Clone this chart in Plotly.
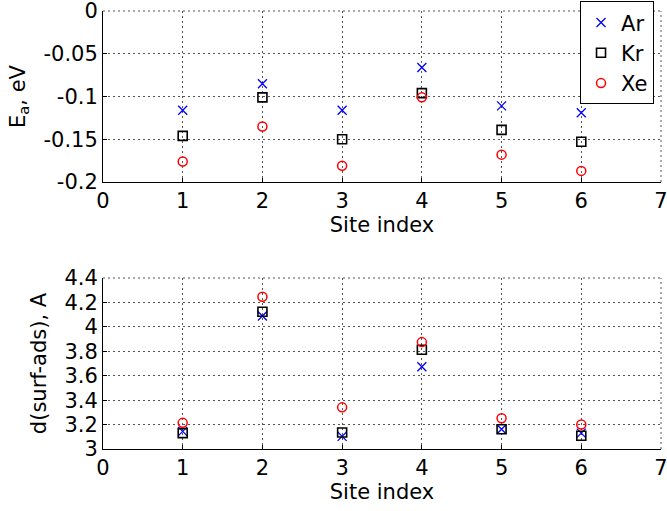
import plotly.graph_objects as go

# Adsorption sites
sites = [1, 2, 3, 4, 5, 6]

# Adsorption energy E_a (eV) per gas
ea_ar = [-0.116, -0.085, -0.116, -0.066, -0.111, -0.119]
ea_kr = [-0.146, -0.101, -0.150, -0.096, -0.139, -0.153]
ea_xe = [-0.176, -0.135, -0.181, -0.101, -0.168, -0.187]

# Surface-adsorbate distance (A) per gas
d_ar = [3.144, 4.089, 3.103, 3.674, 3.162, 3.130]
d_kr = [3.130, 4.124, 3.135, 3.812, 3.162, 3.108]
d_xe = [3.214, 4.246, 3.341, 3.875, 3.252, 3.200]

# Tick labels
x_ticks = [0, 1, 2, 3, 4, 5, 6, 7]
ea_ticks = [0, -0.05, -0.1, -0.15, -0.2]
ea_ticktext = ["0", "-0.05", "-0.1", "-0.15", "-0.2"]
d_ticks = [3, 3.2, 3.4, 3.6, 3.8, 4, 4.2, 4.4]
d_ticktext = ["3", "3.2", "3.4", "3.6", "3.8", "4", "4.2", "4.4"]

FONT = "DejaVu Sans"
FS = 21
GRID_COLOR = "#555"
GRID_DASH = "2px,3px"
styles = {
    "Ar": dict(symbol="x-thin-open", size=9, color="blue", line=dict(color="blue", width=1.3)),
    "Kr": dict(symbol="square-open", size=9, color="black", line=dict(color="black", width=1.6)),
    "Xe": dict(symbol="circle-open", size=9, color="red", line=dict(color="red", width=1.5)),
}

fig = go.Figure()
for name, ys in (("Ar", ea_ar), ("Kr", ea_kr), ("Xe", ea_xe)):
    fig.add_trace(go.Scatter(x=sites, y=ys, mode="markers", name=name,
                             marker=styles[name], xaxis="x", yaxis="y"))
for name, ys in (("Ar", d_ar), ("Kr", d_kr), ("Xe", d_xe)):
    fig.add_trace(go.Scatter(x=sites, y=ys, mode="markers", name=name,
                             marker=styles[name], xaxis="x2", yaxis="y2",
                             showlegend=False))

# Solid left/bottom axes with inward ticks; dotted grid
axis_common = dict(
    showline=True, linecolor="black", linewidth=1, mirror=False,
    ticks="inside", ticklen=4, tickcolor="black",
    showgrid=True, gridcolor=GRID_COLOR, griddash=GRID_DASH, gridwidth=1,
    zeroline=False, ticklabeloverflow="allow",
    tickfont=dict(family=FONT, size=FS, color="black"),
)
title_font = dict(family=FONT, size=FS, color="black")

# Dotted top and right edges closing each axes box
for xr, yr in (("x", "y"), ("x2", "y2")):
    edge = dict(type="line", xref=f"{xr} domain", yref=f"{yr} domain",
                line=dict(color=GRID_COLOR, width=1, dash=GRID_DASH), layer="below")
    fig.add_shape(edge, x0=0, x1=1, y0=1, y1=1)
    fig.add_shape(edge, x0=1, x1=1, y0=0, y1=1)

fig.update_layout(
    width=667, height=511,
    margin=dict(l=103, r=6, t=11, b=62, autoexpand=False),
    paper_bgcolor="white", plot_bgcolor="white",
    font=dict(family=FONT, size=FS, color="black"),
    showlegend=True,
    legend=dict(x=0.9875, y=1.022, xanchor="right", yanchor="top",
                bordercolor="black", borderwidth=1, bgcolor="white",
                font=dict(family=FONT, size=FS, color="black"),
                itemwidth=30, tracegroupgap=0),
    xaxis=dict(axis_common, domain=[0, 1], range=[0, 7], tickvals=x_ticks,
               anchor="y", title=dict(text="Site index", standoff=3, font=title_font)),
    yaxis=dict(axis_common, domain=[0.6096, 1.0], range=[-0.2, 0],
               tickvals=ea_ticks, ticktext=ea_ticktext, anchor="x",
               title=dict(text="E<sub>a</sub>, eV", standoff=12, font=title_font)),
    xaxis2=dict(axis_common, domain=[0, 1], range=[0, 7], tickvals=x_ticks,
                anchor="y2", title=dict(text="Site index", standoff=3, font=title_font)),
    yaxis2=dict(axis_common, domain=[0, 0.3904], range=[3, 4.4],
                tickvals=d_ticks, ticktext=d_ticktext, anchor="x2",
                title=dict(text="d(surf-ads), A", standoff=12, font=title_font)),
)

fig.write_html("out.html")
